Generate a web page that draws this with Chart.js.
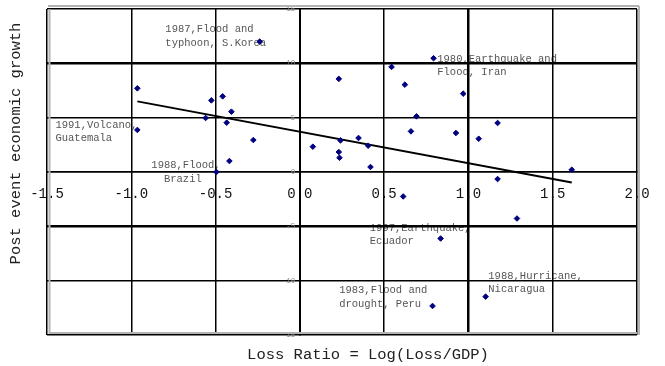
<!DOCTYPE html>
<html>
<head>
<meta charset="utf-8">
<script src="https://cdn.jsdelivr.net/npm/chart.js@4/dist/chart.umd.min.js"></script>
<style>
    body { margin: 0; background: #fff; }
</style>
</head>
<body>
<canvas id="disasterChart" width="665" height="366"></canvas>
<script>
// Data titik: Loss Ratio (x) dan pertumbuhan ekonomi pasca bencana (y)
const lossRatio = [
    -0.964, -0.964, -0.525, -0.458, -0.406, -0.559, -0.434, -0.276, -0.418, -0.495,
    -0.238, 0.077, 0.231, 0.241, 0.231, 0.235, 0.348, 0.405, 0.419, 0.544,
    0.623, 0.793, 0.969, 0.692, 0.659, 0.926, 1.061, 1.173, 1.613, 1.173,
    0.613, 1.288, 0.835, 1.102, 0.787
];
const growth = [
    7.70, 3.87, 6.59, 6.96, 5.55, 4.97, 4.54, 2.94, 1.01, 0.0,
    12.0, 2.33, 8.57, 2.91, 1.84, 1.31, 3.13, 2.42, 0.46, 9.67,
    8.04, 10.47, 7.21, 5.12, 3.74, 3.59, 3.06, 4.51, 0.21, -0.65,
    -2.25, -4.28, -6.12, -11.47, -12.33
];

// Garis tren
const trendX = [-0.964, 1.613];
const trendY = [6.50, -0.96];

// Label sumbu
const xTicks = [-1.5, -1.0, -0.5, 0.0, 0.5, 1.0, 1.5, 2.0];
const yTicks = [-15, -10, -5, 0, 5, 10, 15];

// Catatan kejadian bencana (posisi dalam satuan data)
const noteX = [-0.798, 0.815, -1.450, -0.881, 0.415, 0.233, 1.118];
const noteY = [13.11, 10.39, 4.35, 0.60, -5.17, -10.92, -9.56];
const noteText = [
    ["1987,Flood and", "typhoon, S.Korea"],
    ["1980,Earthquake and", "Flood, Iran"],
    ["1991,Volcano,", "Guatemala"],
    ["1988,Flood,", "  Brazil"],
    ["1997,Earthquake,", "Ecuador"],
    ["1983,Flood and", "drought, Peru"],
    ["1988,Hurricane,", "Nicaragua"]
];

const MONO = "'Liberation Mono', 'Courier New', monospace";

// Teks catatan digambar di bawah grid
const notesPlugin = {
    id: "notes",
    beforeDraw(chart) {
        const ctx = chart.ctx;
        const xs = chart.scales.x;
        const ys = chart.scales.y;
        ctx.save();
        ctx.font = "10.5px " + MONO;
        ctx.fillStyle = "#555";
        ctx.textAlign = "left";
        ctx.textBaseline = "middle";
        noteText.forEach((lines, i) => {
            const px = xs.getPixelForValue(noteX[i]);
            const py = ys.getPixelForValue(noteY[i]);
            lines.forEach((t, j) => ctx.fillText(t, px, py + j * 13.4));
        });
        ctx.restore();
    },
};

// Bingkai abu-abu dan judul sumbu
const framePlugin = {
    id: "frame",
    afterDraw(chart) {
        const ctx = chart.ctx;
        const a = chart.chartArea;
        ctx.save();
        ctx.strokeStyle = "#b4b4b4";
        ctx.lineWidth = 2;
        ctx.beginPath();
        ctx.moveTo(a.left + 1, a.top - 3);
        ctx.lineTo(a.right + 2, a.top - 3);
        ctx.moveTo(a.left + 2.5, a.top);
        ctx.lineTo(a.left + 2.5, a.bottom - 1);
        ctx.moveTo(a.right + 2, a.top - 3);
        ctx.lineTo(a.right + 2, a.bottom);
        ctx.moveTo(a.left + 2, a.bottom - 2);
        ctx.lineTo(a.right, a.bottom - 2);
        ctx.stroke();

        ctx.fillStyle = "#222";
        ctx.font = "15.5px " + MONO;
        ctx.textAlign = "center";
        ctx.textBaseline = "middle";
        ctx.fillText("Loss Ratio = Log(Loss/GDP)", 368, 355);
        ctx.translate(16, 143.5);
        ctx.rotate(-Math.PI / 2);
        ctx.fillText("Post event economic growth", 0, 0);
        ctx.restore();
    },
};

new Chart(document.getElementById("disasterChart"), {
    type: "scatter",
    data: {
        datasets: [
            {
                label: "Events",
                data: lossRatio.map((v, i) => ({ x: v, y: growth[i] })),
                backgroundColor: "#000080",
                borderColor: "#000080",
                borderWidth: 1,
                pointStyle: "rectRot",
                pointRadius: 2.8,
            },
            {
                type: "line",
                label: "Trend",
                data: trendX.map((v, i) => ({ x: v, y: trendY[i] })),
                borderColor: "#000",
                borderWidth: 2,
                pointRadius: 0,
                fill: false,
            },
        ],
    },
    options: {
        responsive: false,
        animation: false,
        layout: {
            padding: { left: 47, top: 9, right: 28, bottom: 31 },
        },
        plugins: {
            legend: { display: false },
            tooltip: { enabled: false },
        },
        scales: {
            x: {
                type: "linear",
                position: { y: 0 },
                min: -1.5,
                max: 2.0,
                afterBuildTicks: (s) => {
                    s.ticks = xTicks.map((v) => ({ value: v }));
                },
                ticks: {
                    padding: 14,
                    color: "#111",
                    font: { family: MONO, size: 14 },
                    callback: (v) => Number(v).toFixed(1),
                },
                grid: {
                    color: "#000",
                    drawTicks: false,
                    lineWidth: (c) => (c.tick && c.tick.value === 1.0 ? 2.5 : 1.5),
                },
                border: { color: "#000", width: 1.5 },
            },
            y: {
                type: "linear",
                position: { x: 0 },
                min: -15,
                max: 15,
                afterBuildTicks: (s) => {
                    s.ticks = yTicks.map((v) => ({ value: v }));
                },
                ticks: {
                    color: "#888",
                    font: { family: MONO, size: 7.5 },
                    // spasi agar label sedikit bergeser dari sumbu
                    callback: (v) => v + " ",
                },
                grid: {
                    color: "#000",
                    drawTicks: false,
                    lineWidth: (c) =>
                        c.tick && (c.tick.value === 10 || c.tick.value === -5) ? 2.5 : 1.5,
                },
                border: { color: "#000", width: 2 },
            },
        },
    },
    plugins: [notesPlugin, framePlugin],
});
</script>
</body>
</html>
